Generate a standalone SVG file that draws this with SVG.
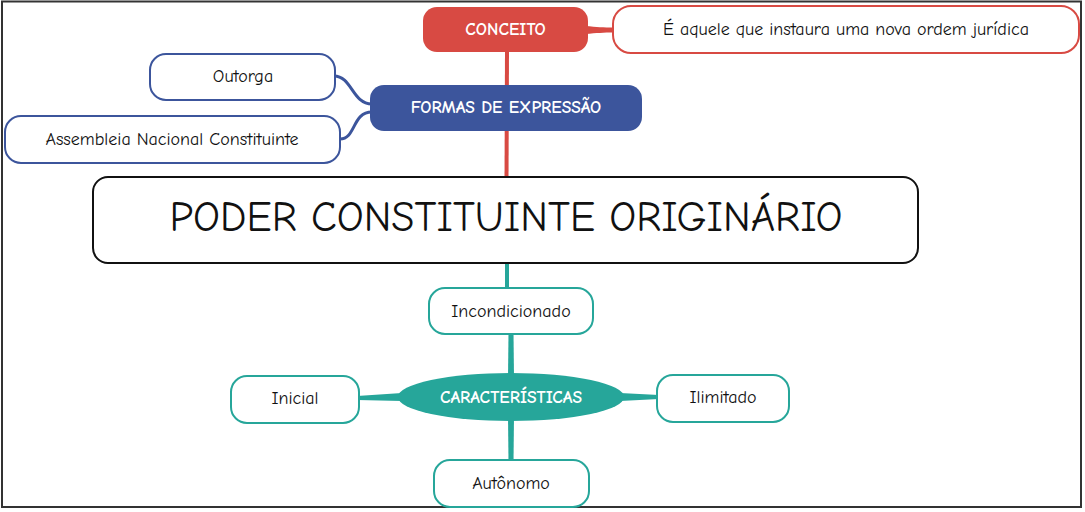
<svg xmlns="http://www.w3.org/2000/svg" width="1085" height="512" viewBox="0 0 1085 512">
<style>
.t{font-family:"Comic Neue","Liberation Sans","DejaVu Sans",sans-serif;text-anchor:middle;dominant-baseline:central}
.leaf{fill:#fff;stroke-width:2}
.red{stroke:#d84a43}
.blue{stroke:#3c559c}
.teal{stroke:#26a69a}
.lt{font-size:18px;fill:#111}
.ht{font-size:17.5px;fill:#fff;font-weight:bold}
</style>
<rect x="2" y="1.5" width="1079" height="505.5" fill="#fff" stroke="#333" stroke-width="2"/>
<g id="connectors" fill="none">
<path d="M505,50 L509,50 L508.5,180 L504.5,180 Z" fill="#d84a43"/>
<path d="M585,26 C598,27 602,27.5 615,27.5 L615,32.5 C602,32.5 598,33 585,34 Z" fill="#d84a43"/>
<path d="M372,104 C352,104 352,76 334,76" stroke="#3c559c" stroke-width="3"/>
<path d="M372,112 C352,112 356,139 340,139" stroke="#3c559c" stroke-width="3"/>
<path d="M505,262 L509,262 L509,290 L505,290 Z" fill="#26a69a"/>
<path d="M508.5,333 L513.5,333 L514,378 L508,378 Z" fill="#26a69a"/>
<path d="M508,416 L514,416 L513.5,462 L508.5,462 Z" fill="#26a69a"/>
<path d="M402,393 L402,401 L357,400 L357,396 Z" fill="#26a69a"/>
<path d="M620,393 L620,401 L659,399 L659,395 Z" fill="#26a69a"/>
</g>
<g id="conceito">
<rect x="423" y="7" width="165" height="45" rx="14" fill="#d84a43"/>
<text class="t ht" x="505.5" y="29">CONCEITO</text>
</g>
<g id="conceito-def">
<rect class="leaf red" x="613" y="6" width="466" height="47" rx="18"/>
<text class="t lt" x="846" y="29">É aquele que instaura uma nova ordem jurídica</text>
</g>
<g id="formas">
<rect x="370" y="85" width="272" height="46" rx="14" fill="#3c559c"/>
<text class="t ht" x="506" y="107">FORMAS DE EXPRESSÃO</text>
</g>
<g id="outorga">
<rect class="leaf blue" x="150" y="54" width="185" height="46" rx="16"/>
<text class="t lt" x="243" y="76">Outorga</text>
</g>
<g id="assembleia">
<rect class="leaf blue" x="5" y="116" width="335" height="47" rx="16"/>
<text class="t lt" x="172" y="139">Assembleia Nacional Constituinte</text>
</g>
<g id="main">
<rect x="93" y="177" width="825" height="86" rx="15" fill="#fff" stroke="#111" stroke-width="2"/>
<text class="t" x="506" y="217" font-size="42" fill="#111">PODER CONSTITUINTE ORIGINÁRIO</text>
</g>
<g id="incondicionado">
<rect class="leaf teal" x="429" y="288" width="164" height="46" rx="16"/>
<text class="t lt" x="511" y="311">Incondicionado</text>
</g>
<g id="caracteristicas">
<ellipse cx="511" cy="397" rx="113" ry="24" fill="#26a69a"/>
<text class="t ht" x="511" y="397">CARACTERÍSTICAS</text>
</g>
<g id="inicial">
<rect class="leaf teal" x="231" y="376" width="128" height="47" rx="16"/>
<text class="t lt" x="295" y="398">Inicial</text>
</g>
<g id="ilimitado">
<rect class="leaf teal" x="657" y="375" width="132" height="47" rx="16"/>
<text class="t lt" x="723" y="397">Ilimitado</text>
</g>
<g id="autonomo">
<rect class="leaf teal" x="434" y="460" width="155" height="47" rx="16"/>
<text class="t lt" x="511" y="483">Autônomo</text>
</g>
</svg>
